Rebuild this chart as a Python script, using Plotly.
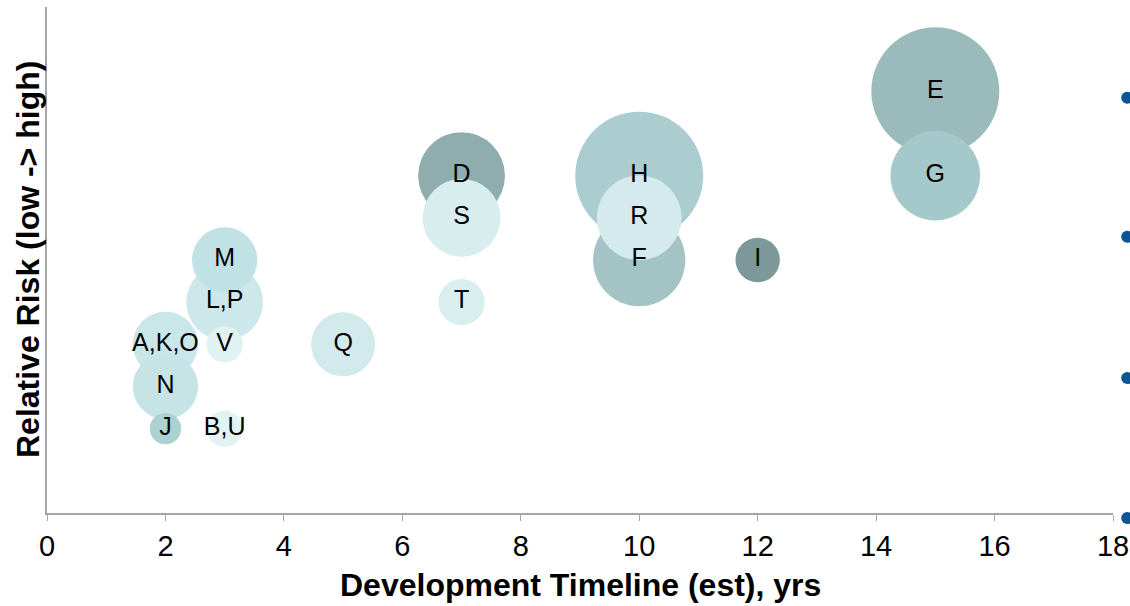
import plotly.graph_objects as go

# Projects: timeline (years), relative risk, relative size, fill colour
labels = ["E", "H", "F", "G", "D", "R", "S", "L,P", "M", "A,K,O", "N", "Q", "T", "I", "V", "B,U", "J"]
timeline = [15, 10, 10, 15, 7, 10, 7, 3, 3, 2, 2, 5, 7, 12, 3, 3, 2]
risk = [10, 8, 6, 8, 8, 7, 7, 5, 6, 4, 3, 4, 5, 6, 4, 2, 2]
size = [100, 100, 52, 49, 46, 44, 37, 36, 26, 26, 26, 25, 13, 12, 8, 8, 6]
colors = ["#9bbabc", "#accdd0", "#a3c3c5", "#a5c8cb", "#8fadae", "#d4eaec", "#d8edee",
          "#cde8ea", "#c0e2e5", "#c9e6e8", "#c6e4e6", "#d2eaec", "#d9eeef", "#7c9898",
          "#e1f2f2", "#e3f2f2", "#abd1d3"]

# Secondary marker series along the right edge
edge_x = [18.24, 18.24, 18.24, 18.24]
edge_y = [9.85, 6.55, 3.2, -0.12]

x_ticks = [0, 2, 4, 6, 8, 10, 12, 14, 16, 18]

FONT = "Liberation Sans, Arial, sans-serif"
max_diam = 128

# Overall plotting region (pixels) and the main axes inside it
W, H = 1130, 606
ML, MR, MT, MB = 47, 0, 7, 80
plot_w = W - ML - MR
plot_h = H - MT - MB
main_right = 1113           # right end of the main x axis
main_bottom = 513           # main x axis line
x_dom_end = (main_right - ML) / plot_w
y_dom_start = (H - MB - main_bottom) / plot_h
x_max, y_max = 18, 12
px_per_x = (main_right - ML) / x_max
px_per_y = (main_bottom - MT) / y_max

fig = go.Figure()
fig.add_trace(go.Scatter(
    x=timeline, y=risk, mode="markers+text", text=labels,
    textposition="middle center",
    textfont=dict(family=FONT, size=25, color="#000000"),
    marker=dict(size=size, sizemode="area", sizeref=2 * max(size) / max_diam ** 2,
                color=colors, opacity=1, line=dict(width=0)),
    cliponaxis=False, showlegend=False, hoverinfo="skip",
))
# Edge series on a full-width companion subplot sharing the same scale
fig.add_trace(go.Scatter(
    x=edge_x, y=edge_y, xaxis="x2", yaxis="y2", mode="markers",
    marker=dict(size=12, color="#0b5596", line=dict(width=0)),
    cliponaxis=False, showlegend=False, hoverinfo="skip",
))

axis_line = "#a6a6a6"
fig.update_layout(
    width=W, height=H,
    margin=dict(l=ML, r=MR, t=MT, b=MB, autoexpand=False),
    paper_bgcolor="white", plot_bgcolor="rgba(0,0,0,0)",
    xaxis=dict(domain=[0, x_dom_end], range=[0, x_max], tickvals=x_ticks,
               ticktext=[str(v) for v in x_ticks],
               showgrid=False, zeroline=False, showline=True, linecolor=axis_line,
               linewidth=1.5, ticks="outside", ticklen=6, tickcolor=axis_line,
               tickfont=dict(family=FONT, size=29, color="#000000"), automargin=False,
               anchor="y"),
    yaxis=dict(domain=[y_dom_start, 1], range=[0, y_max], showgrid=False, zeroline=False,
               showline=True, linecolor=axis_line, linewidth=1.5, showticklabels=False,
               ticks="", automargin=False, anchor="x"),
    xaxis2=dict(domain=[0, 1], range=[0, plot_w / px_per_x], visible=False, anchor="y2"),
    yaxis2=dict(domain=[0, 1], range=[-((H - MB) - main_bottom) / px_per_y, y_max],
                visible=False, anchor="x2"),
    annotations=[
        dict(text="<b>Development Timeline (est), yrs</b>", xref="x domain", yref="y domain",
             x=0.5, y=-0.142, xanchor="center", yanchor="middle", showarrow=False,
             font=dict(family=FONT, size=32, color="#000000")),
        dict(text="<b>Relative Risk (low -> high)</b>", xref="x domain", yref="y domain",
             x=-0.0178, y=0.5, xanchor="center", yanchor="middle", textangle=-90,
             showarrow=False, font=dict(family=FONT, size=32, color="#000000")),
    ],
)

fig.write_html("out.html")
